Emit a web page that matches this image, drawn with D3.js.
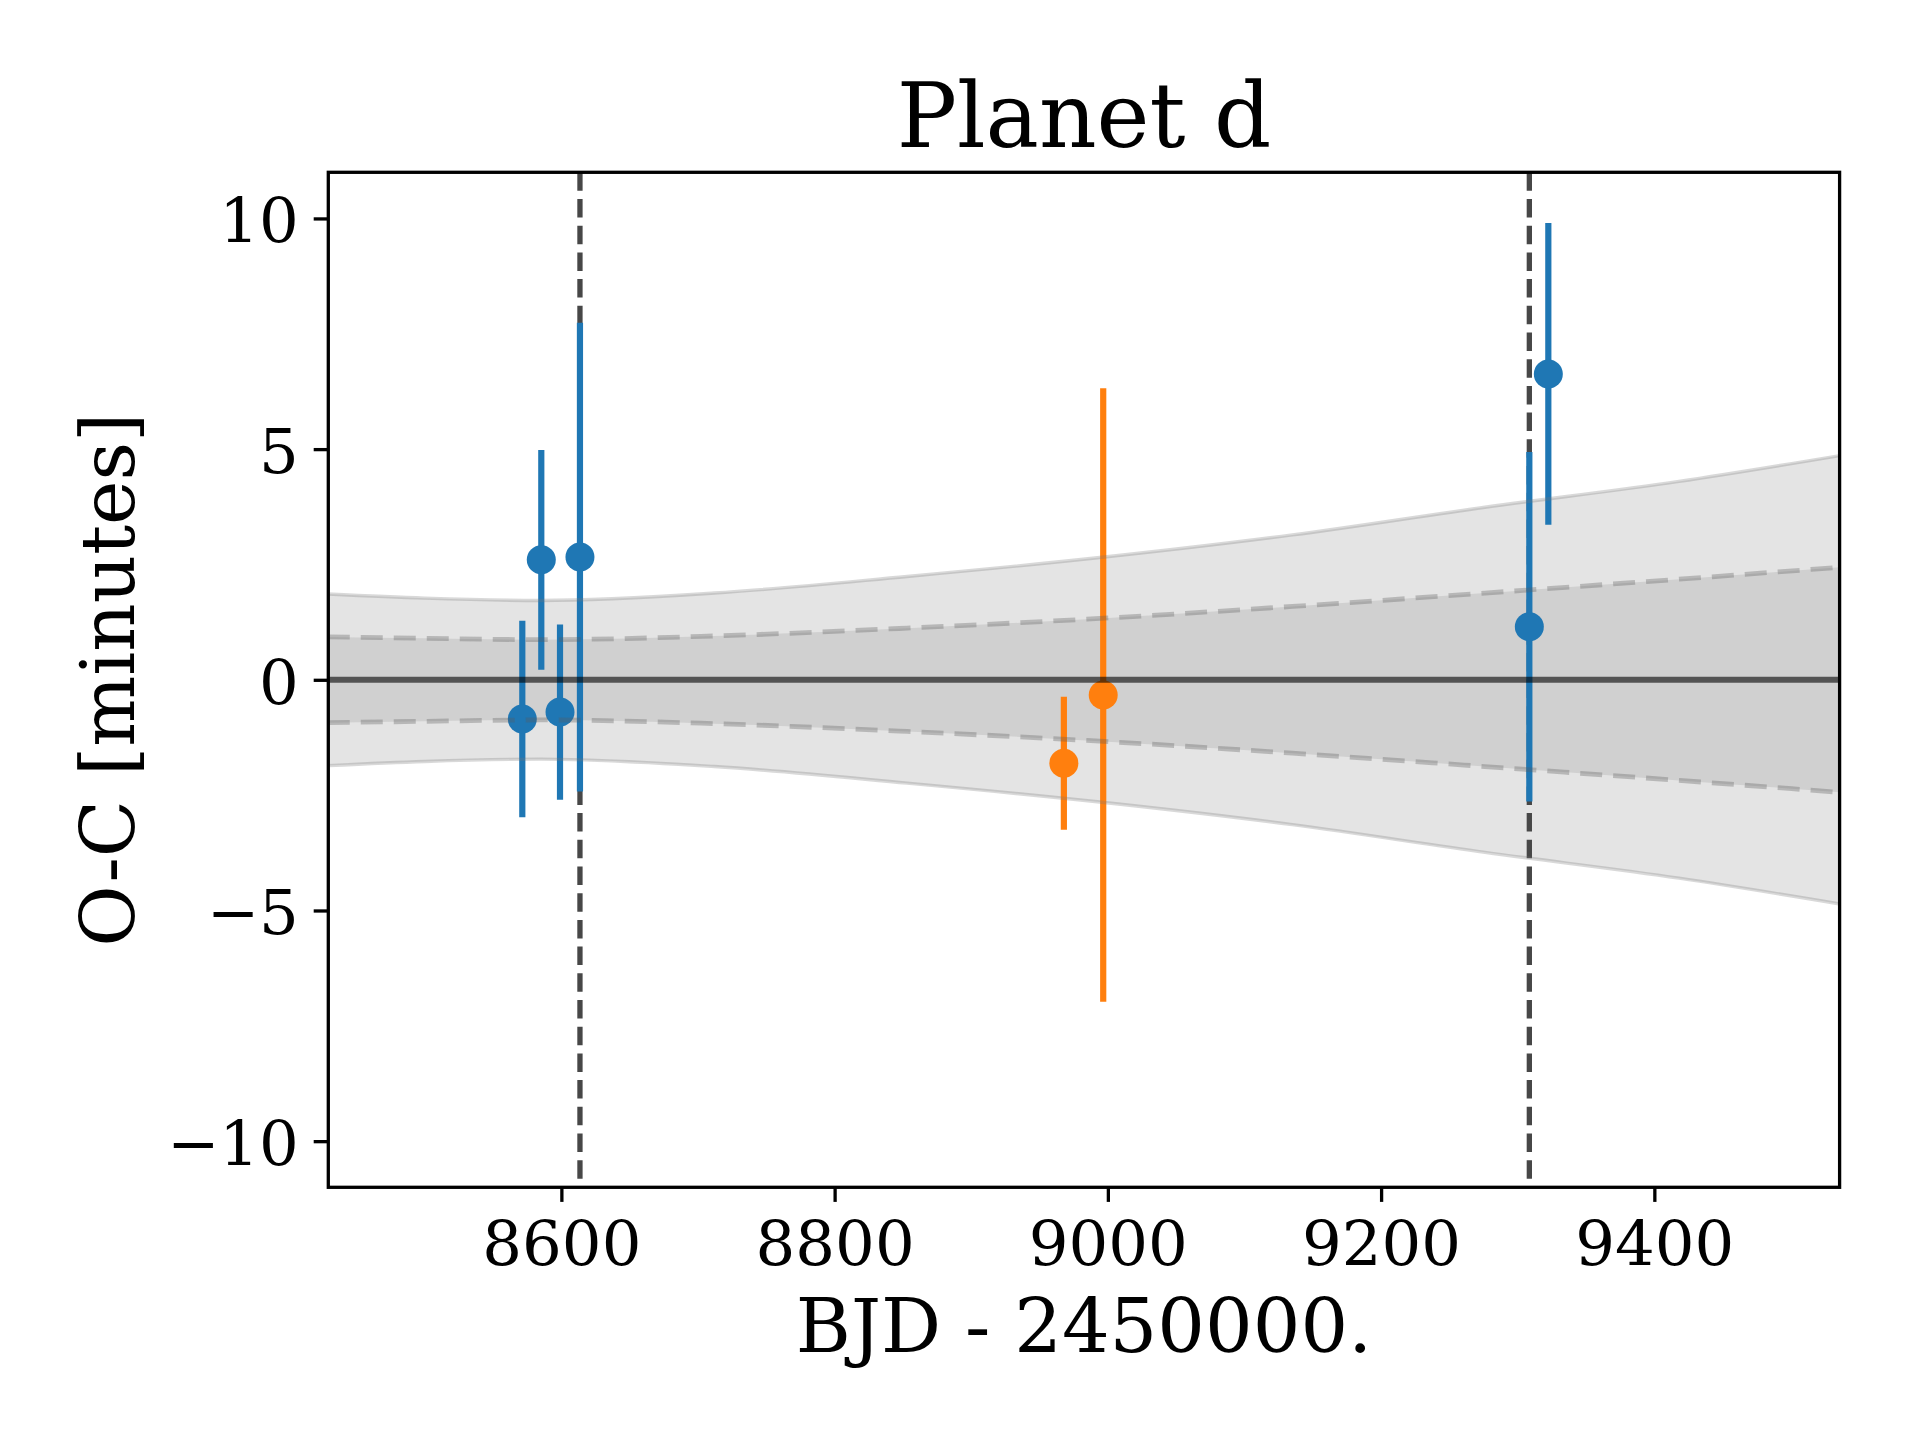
<!DOCTYPE html>
<html>
<head>
<meta charset="utf-8">
<script src="https://cdn.jsdelivr.net/npm/d3@7"></script>
<style>
  body { margin: 0; background: #fff; }
  svg { display: block; }
</style>
</head>
<body>
<svg width="1920" height="1440"></svg>
<script>
// blue transits
var blueBjd = [8571.4, 8585.3, 8599.0, 8613.6, 9308.5, 9322.4];
var blueOc = [-0.85, 2.60, -0.70, 2.66, 1.15, 6.63];
var blueErr = [2.13, 2.38, 1.90, 5.08, 3.79, 3.27];

// orange transits
var orangeBjd = [8967.8, 8996.6];
var orangeOc = [-1.81, -0.33];
var orangeErr = [1.44, 6.65];

// vertical reference epochs
var refEpochs = [8613.6, 9308.5];

// ephemeris uncertainty band
var bandBjd = [8429, 8500, 8585, 8712, 8853, 8994, 9135, 9276, 9418, 9536];
var band1 = [0.93, 0.90, 0.87, 0.95, 1.12, 1.33, 1.59, 1.88, 2.18, 2.44];
var band2 = [1.86, 1.77, 1.72, 1.88, 2.24, 2.65, 3.14, 3.74, 4.30, 4.86];

var xTicks = [8600, 8800, 9000, 9200, 9400];
var yTicks = [-10, -5, 0, 5, 10];

var svg = d3.select("svg"),
  plotLeft = 328.3,
  plotRight = 1839.6,
  plotTop = 172.3,
  plotBottom = 1187.3;

var xScale = d3.scaleLinear().domain([8429.4, 9535.6]).range([plotLeft, plotRight]),
  yScale = d3.scaleLinear().domain([-11, 11]).range([plotBottom, plotTop]);

var font = "'DejaVu Serif', serif";

svg.append("defs").append("clipPath").attr("id", "plot")
  .append("rect")
  .attr("x", plotLeft).attr("y", plotTop)
  .attr("width", plotRight - plotLeft).attr("height", plotBottom - plotTop);

var g = svg.append("g").attr("clip-path", "url(#plot)");

var band = bandBjd.map(function (d, i) {
  return { x: d, s1: band1[i], s2: band2[i] };
});

function area(key) {
  return d3.area()
    .curve(d3.curveMonotoneX)
    .x(function (d) { return xScale(d.x); })
    .y0(function (d) { return yScale(-d[key]); })
    .y1(function (d) { return yScale(d[key]); });
}
function edge(sign, key) {
  return d3.line()
    .curve(d3.curveMonotoneX)
    .x(function (d) { return xScale(d.x); })
    .y(function (d) { return yScale(sign * d[key]); });
}

g.append("path").datum(band).attr("d", area("s2")).attr("fill", "#e4e4e4");
g.append("path").datum(band).attr("d", area("s1")).attr("fill", "#d0d0d0");

// reference epochs
g.selectAll(".ref")
  .data(refEpochs)
  .enter()
  .append("line")
  .attr("x1", function (d) { return xScale(d); })
  .attr("x2", function (d) { return xScale(d); })
  .attr("y1", plotTop)
  .attr("y2", plotBottom)
  .attr("stroke", "#474747")
  .attr("stroke-width", 5.3)
  .attr("stroke-dasharray", "18.5,8.2");

function drawSeries(xs, ys, es, color) {
  var pts = xs.map(function (d, i) { return { x: d, y: ys[i], e: es[i] }; });
  g.append("g").selectAll("line")
    .data(pts)
    .enter()
    .append("line")
    .attr("x1", function (d) { return xScale(d.x); })
    .attr("x2", function (d) { return xScale(d.x); })
    .attr("y1", function (d) { return yScale(d.y + d.e); })
    .attr("y2", function (d) { return yScale(d.y - d.e); })
    .attr("stroke", color)
    .attr("stroke-width", 6.2);
  g.append("g").selectAll("circle")
    .data(pts)
    .enter()
    .append("circle")
    .attr("cx", function (d) { return xScale(d.x); })
    .attr("cy", function (d) { return yScale(d.y); })
    .attr("r", 14.5)
    .attr("fill", color);
}
drawSeries(blueBjd, blueOc, blueErr, "#1f77b4");
drawSeries(orangeBjd, orangeOc, orangeErr, "#ff7f0e");

// band edges
[1, -1].forEach(function (s) {
  g.append("path").datum(band).attr("d", edge(s, "s2"))
    .attr("fill", "none")
    .attr("stroke", "rgba(120,120,120,0.28)")
    .attr("stroke-width", 3.4);
  g.append("path").datum(band).attr("d", edge(s, "s1"))
    .attr("fill", "none")
    .attr("stroke", "rgba(90,90,90,0.32)")
    .attr("stroke-width", 4.8)
    .attr("stroke-dasharray", "22,11");
});

// zero line
g.append("line")
  .attr("x1", plotLeft).attr("x2", plotRight)
  .attr("y1", yScale(0)).attr("y2", yScale(0))
  .attr("stroke", "rgba(0,0,0,0.6)")
  .attr("stroke-width", 6);

// axes
var xAxis = svg.append("g")
  .attr("transform", "translate(0," + plotBottom + ")")
  .call(d3.axisBottom(xScale).tickValues(xTicks).tickSize(14.6).tickPadding(14.6).tickFormat(d3.format("d")));
var yAxis = svg.append("g")
  .attr("transform", "translate(" + plotLeft + ",0)")
  .call(d3.axisLeft(yScale).tickValues(yTicks).tickSize(14.6).tickPadding(14.6)
    .tickFormat(function (d) { return d < 0 ? "\u2212" + Math.abs(d) : d; }));

[xAxis, yAxis].forEach(function (a) {
  a.select(".domain").remove();
  a.selectAll(".tick line").attr("stroke", "#000").attr("stroke-width", 3.3);
  a.selectAll(".tick text")
    .attr("fill", "#000")
    .style("font-family", font)
    .style("font-size", "62.5px");
});
xAxis.selectAll(".tick text").attr("dy", null).attr("y", 77.7);
yAxis.selectAll(".tick text").attr("dy", null).attr("y", 23.5).attr("x", -29.5);

// frame
svg.append("rect")
  .attr("x", plotLeft).attr("y", plotTop)
  .attr("width", plotRight - plotLeft).attr("height", plotBottom - plotTop)
  .attr("fill", "none")
  .attr("stroke", "#000")
  .attr("stroke-width", 3.3)
  .attr("stroke-linecap", "square");

// Title
svg.append("text")
  .attr("x", (plotLeft + plotRight) / 2)
  .attr("y", 146.7)
  .attr("text-anchor", "middle")
  .style("font-family", font)
  .style("font-size", "89.5px")
  .text("Planet d");

// X label
svg.append("text")
  .attr("x", (plotLeft + plotRight) / 2)
  .attr("y", 1351.7)
  .attr("text-anchor", "middle")
  .style("font-family", font)
  .style("font-size", "75px")
  .text("BJD - 2450000.");

// Y label
svg.append("text")
  .attr("text-anchor", "middle")
  .attr("transform", "translate(134," + (plotTop + plotBottom) / 2 + ")rotate(-90)")
  .style("font-family", font)
  .style("font-size", "75px")
  .text("O-C [minutes]");
</script>
</body>
</html>
